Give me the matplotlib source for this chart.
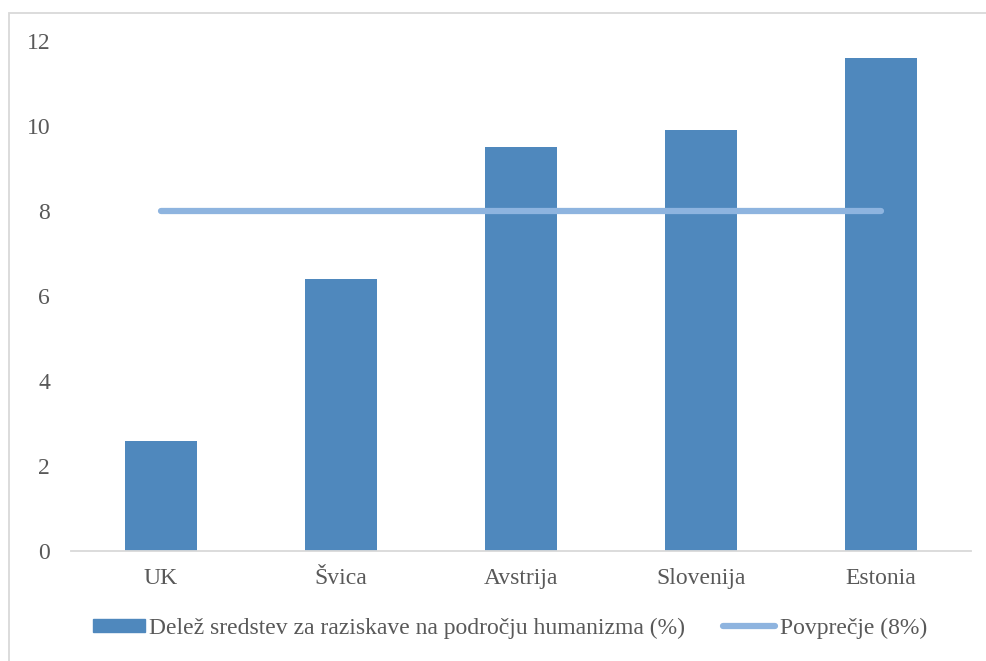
import matplotlib.pyplot as plt
from matplotlib.patches import Rectangle
from matplotlib.lines import Line2D

countries = ["UK", "Švica", "Avstrija", "Slovenija", "Estonia"]
share = [2.6, 6.4, 9.5, 9.9, 11.6]
average = [8, 8, 8, 8, 8]
yticks = [0, 2, 4, 6, 8, 10, 12]

bar_label = "Delež sredstev za raziskave na področju humanizma (%)"
line_label = "Povprečje (8%)"

bar_color = "#4F88BD"
line_color = "#8EB4DF"
text_color = "#595959"

plt.rcParams["font.family"] = ["Liberation Serif", "DejaVu Serif"]

W, H = 987, 661
fig = plt.figure(figsize=(W / 100, H / 100), dpi=100)

# chart-area frame (only its top and left edges fall inside the image)
fig.patches.append(Rectangle((9 / W, -1.0), 3.0, 2.0 - 13 / H, transform=fig.transFigure,
                             fill=False, edgecolor="#D9D9D9", linewidth=1.3))

ax = fig.add_axes([71 / W, 1 - 551 / H, (971 - 71) / W, (551 - 41) / H])
x = list(range(len(countries)))
ax.bar(x, share, width=0.4, color=bar_color, zorder=2)
ax.plot(x, average, color=line_color, linewidth=4.5, solid_capstyle="round", zorder=3)

ax.set_xlim(-0.5, len(countries) - 0.5)
ax.set_ylim(0, 12)
ax.set_yticks(yticks)
ax.set_yticklabels([str(t) for t in yticks])
ax.set_xticks(x)
ax.set_xticklabels(countries)
ax.tick_params(axis="both", length=0, labelsize=17, labelcolor=text_color)
ax.tick_params(axis="y", pad=15)
ax.tick_params(axis="x", pad=12)

for side in ("top", "right", "left"):
    ax.spines[side].set_visible(False)
ax.spines["bottom"].set_color("#D9D9D9")
ax.spines["bottom"].set_linewidth(1.3)

handles = [
    Rectangle((0, 0), 1, 1, color=bar_color),
    Line2D([0], [0], color=line_color, linewidth=4.5, solid_capstyle="round"),
]
fig.legend(handles, [bar_label, line_label], loc="center", ncol=2,
           bbox_to_anchor=(510 / W, 1 - 628 / H), frameon=False,
           fontsize=17, labelcolor=text_color, handlelength=2.2,
           handleheight=0.45, handletextpad=0.2, columnspacing=1.6)

fig.savefig("out.png", dpi=100)
